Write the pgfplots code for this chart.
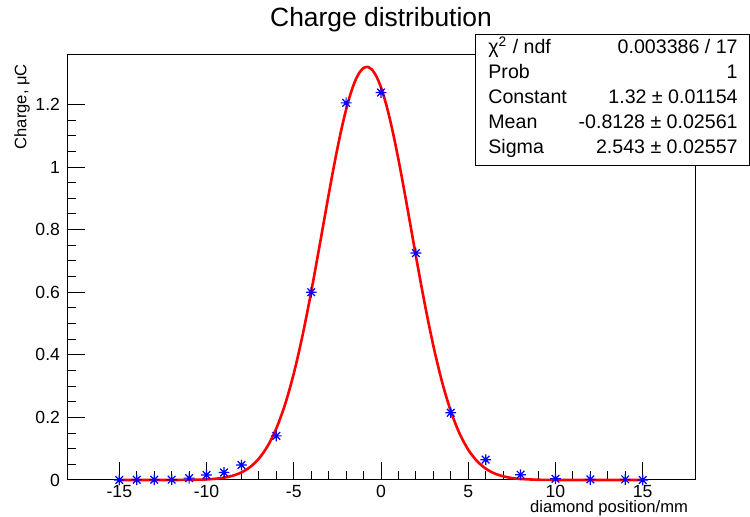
\documentclass[border=0pt]{standalone}
\usepackage{fontspec}
\setmainfont{Liberation Sans}
\usepackage{pgfplots}
\usepackage{pgfplotstable}
\pgfplotsset{compat=1.18}

% ROOT style star: + and x on top of each other
\pgfdeclareplotmark{rootstar}{%
  \pgfpathmoveto{\pgfqpoint{-\pgfplotmarksize}{0pt}}%
  \pgfpathlineto{\pgfqpoint{\pgfplotmarksize}{0pt}}%
  \pgfpathmoveto{\pgfqpoint{0pt}{-\pgfplotmarksize}}%
  \pgfpathlineto{\pgfqpoint{0pt}{\pgfplotmarksize}}%
  \pgfpathmoveto{\pgfqpoint{-0.707\pgfplotmarksize}{-0.707\pgfplotmarksize}}%
  \pgfpathlineto{\pgfqpoint{0.707\pgfplotmarksize}{0.707\pgfplotmarksize}}%
  \pgfpathmoveto{\pgfqpoint{-0.707\pgfplotmarksize}{0.707\pgfplotmarksize}}%
  \pgfpathlineto{\pgfqpoint{0.707\pgfplotmarksize}{-0.707\pgfplotmarksize}}%
  \pgfusepathqstroke}

\pgfplotstableread{
x y
-15 0.000
-14 0.001
-13 0.001
-12 0.001
-11 0.006
-10 0.016
-9 0.024
-8 0.048
-6 0.141
-4 0.600
-2 1.205
0 1.238
2 0.725
4 0.215
6 0.065
8 0.017
10 0.004
12 0.002
14 0.002
15 0.000
}\measured

\pgfplotstableread{
x y
-15 0
-13 0
-12 0.00008
-11 0.00043
-10 0.0019
-9.5 0.0039
-9 0.0074
-8.5 0.0137
-8 0.0243
-7.5 0.0416
-7 0.0684
-6.5 0.1083
-6 0.1649
-5.5 0.2415
-5 0.3403
-4.5 0.4614
-4 0.6018
-3.5 0.7553
-3 0.9119
-2.75 0.9876
-2.5 1.0592
-2.25 1.1252
-2 1.1838
-1.75 1.2333
-1.5 1.2727
-1.25 1.3006
-1 1.3164
-0.75 1.3196
-0.5 1.3100
-0.25 1.2881
0 1.2543
0.25 1.2096
0.5 1.1553
0.75 1.0929
1 1.0239
1.25 0.9500
1.5 0.8729
2 0.7160
2.5 0.5650
3 0.4290
3.5 0.3133
4 0.2202
4.5 0.1489
5 0.0968
5.5 0.0606
6 0.0365
6.5 0.0211
7 0.0118
7.5 0.0063
8 0.0033
9 0.0008
10 0.0002
11 0
15 0
}\gausfit

\begin{document}
\begin{tikzpicture}
\begin{axis}[
    name=ax,
    scale only axis,
    width=314pt, height=212.5pt,
    xmin=-18, xmax=18,
    ymin=0, ymax=1.358,
    xtick={-15,-10,-5,0,5,10,15},
    ytick={0,0.2,0.4,0.6,0.8,1,1.2},
    minor x tick num=4,
    minor y tick num=3,
    tick align=inside,
    xtick pos=bottom, ytick pos=left,
    major tick length=9pt, minor tick length=4.5pt,
    axis line style={line width=0.5pt},
    every tick/.style={black, line width=0.5pt},
    tick label style={font=\fontsize{8.8}{10}\selectfont},
    xticklabel style={yshift=1pt},
    /pgf/number format/assume math mode=true,
    clip=false,
]
\addplot[red, line width=1.3pt, smooth, no markers] table {\gausfit};
\addplot[only marks, blue, mark=rootstar, mark size=2.7pt, line width=0.6pt] table {\measured};
\end{axis}

% title and axis labels
\node[anchor=base, font=\fontsize{13.2}{15}\selectfont] at ([yshift=14pt]ax.north) {Charge distribution};
\node[anchor=east, rotate=90, font=\fontsize{8.3}{10}\selectfont] at ([xshift=-22.5pt,yshift=-1pt]ax.north west) {Charge, μC};
\node[anchor=base east, font=\fontsize{8.3}{10}\selectfont] at ([yshift=-16.4pt]ax.south east) {diamond position/mm};

% fit statistics box
\draw[line width=0.5pt, fill=white] ([xshift=204pt,yshift=10pt]ax.north west) rectangle ([xshift=27.3pt,yshift=-55.5pt]ax.north east);
\begin{scope}[every node/.style={font=\fontsize{9.8}{12}\selectfont, inner sep=0pt}]
\node[anchor=base west] at ([xshift=210.5pt,yshift=0.85pt]ax.north west) {χ\textsuperscript{2} / ndf};
\node[anchor=base west] at ([xshift=210.5pt,yshift=-11.65pt]ax.north west) {Prob};
\node[anchor=base west] at ([xshift=210.5pt,yshift=-24.15pt]ax.north west) {Constant};
\node[anchor=base west] at ([xshift=210.5pt,yshift=-36.65pt]ax.north west) {Mean};
\node[anchor=base west] at ([xshift=210.5pt,yshift=-49.15pt]ax.north west) {Sigma};
\node[anchor=base east] at ([xshift=21.5pt,yshift=0.85pt]ax.north east) {0.003386 / 17};
\node[anchor=base east] at ([xshift=21.5pt,yshift=-11.65pt]ax.north east) {1};
\node[anchor=base east] at ([xshift=21.5pt,yshift=-24.15pt]ax.north east) {1.32 ± 0.01154};
\node[anchor=base east] at ([xshift=21.5pt,yshift=-36.65pt]ax.north east) {-0.8128 ± 0.02561};
\node[anchor=base east] at ([xshift=21.5pt,yshift=-49.15pt]ax.north east) {2.543 ± 0.02557};
\end{scope}

\pgfresetboundingbox
\useasboundingbox ([xshift=-33.5pt,yshift=-18pt]ax.south west) rectangle ([xshift=27.5pt,yshift=27.5pt]ax.north east);
\end{tikzpicture}
\end{document}
